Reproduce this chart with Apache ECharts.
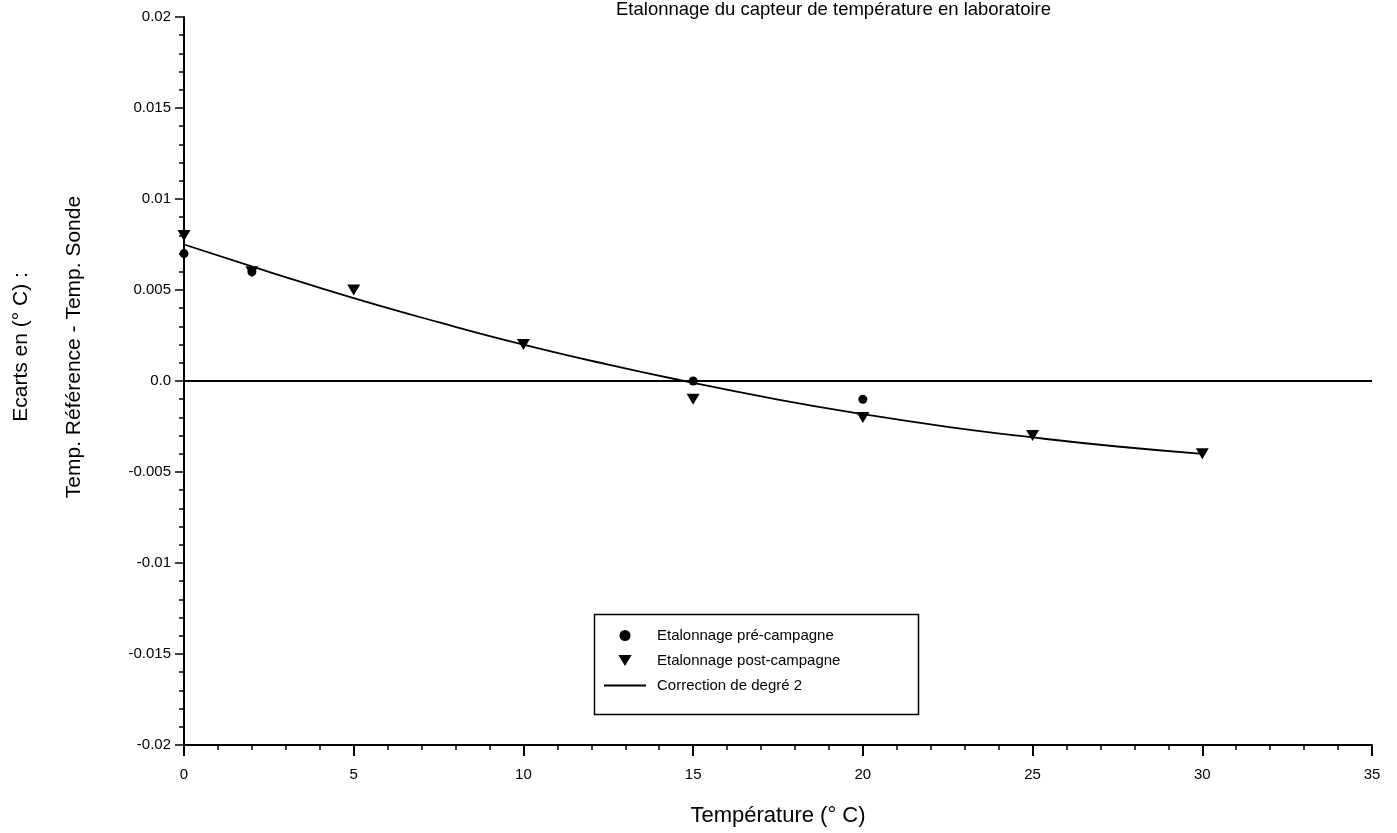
<!DOCTYPE html>
<html>
<head>
<meta charset="utf-8">
<script src="https://cdn.jsdelivr.net/npm/echarts@6/dist/echarts.min.js"></script>
<style>
html,body{margin:0;padding:0;background:#fff;}
#chart{width:1397px;height:833px;}
</style>
</head>
<body>
<div id="chart"></div>
<script>
// Data
const preX = [0, 2, 15, 20];
const preY = [0.007, 0.006, 0.0, -0.001];
const postX = [0, 2, 5, 10, 15, 20, 25, 30];
const postY = [0.008, 0.006, 0.005, 0.002, -0.001, -0.002, -0.003, -0.004];
const fitX = [0, 2.5, 5, 7.5, 10, 12.5, 15, 17.5, 20, 22.5, 25, 27.5, 30];
const fitY = [0.0075, 0.0060, 0.00455, 0.00323, 0.0020, 0.0009, -0.0001, -0.00102, -0.00182, -0.00252, -0.0031, -0.0036, -0.0040];
const xTicks = [0, 5, 10, 15, 20, 25, 30, 35];
const yTickValues = [-0.02, -0.015, -0.01, -0.005, 0, 0.005, 0.01, 0.015, 0.02];
const yTickLabels = ['-0.02', '-0.015', '-0.01', '-0.005', '0.0', '0.005', '0.01', '0.015', '0.02'];
const seriesNames = ['Etalonnage pré-campagne', 'Etalonnage post-campagne', 'Correction de degré 2'];
const titleText = 'Etalonnage du capteur de température en laboratoire';
const xName = 'Température (° C)';
const yName1 = 'Ecarts en (° C) :';
const yName2 = 'Temp. Référence - Temp. Sonde';

const zip = (xs, ys) => xs.map((x, i) => [x, ys[i]]);
const FONT = '"Liberation Sans", Arial, Helvetica, sans-serif';
const triPath = 'path://M0,0 L12,0 L6,10 Z';
const linePath = 'path://M0,0 L42,0 L42,1.8 L0,1.8 Z';

const chart = echarts.init(document.getElementById('chart'), null, {renderer: 'canvas'});
chart.setOption({
  backgroundColor: '#ffffff',
  animation: false,
  title: {
    text: titleText,
    left: 611,
    top: -5,
    textStyle: {fontFamily: FONT, fontSize: 18.5, fontWeight: 'normal', color: '#000'}
  },
  grid: {left: 184, right: 25, top: 17, bottom: 88, containLabel: false},
  xAxis: {
    type: 'value',
    min: 0, max: 35, interval: 5,
    name: xName,
    nameLocation: 'middle',
    nameGap: 60,
    nameTextStyle: {fontFamily: FONT, fontSize: 22, color: '#000'},
    axisLine: {show: true, onZero: false, lineStyle: {color: '#000', width: 2}},
    axisTick: {show: true, inside: false, length: 11, lineStyle: {color: '#000', width: 2}},
    minorTick: {show: true, splitNumber: 5, length: 5, lineStyle: {color: '#000', width: 1.5}},
    axisLabel: {fontFamily: FONT, fontSize: 15, color: '#000', margin: 22,
      formatter: v => xTicks.includes(v) ? String(v) : ''},
    splitLine: {show: false}
  },
  yAxis: {
    type: 'value',
    min: -0.02, max: 0.02, interval: 0.005,
    axisLine: {show: true, onZero: false, lineStyle: {color: '#000', width: 2}},
    axisTick: {show: true, inside: false, length: 9, lineStyle: {color: '#000', width: 1.5}},
    minorTick: {show: true, splitNumber: 5, length: 5, lineStyle: {color: '#000', width: 1.5}},
    axisLabel: {fontFamily: FONT, fontSize: 15, color: '#000', margin: 13,
      formatter: v => {
        for (let i = 0; i < yTickValues.length; i++) {
          if (Math.abs(yTickValues[i] - v) < 1e-9) return yTickLabels[i];
        }
        return '';
      }},
    splitLine: {show: false}
  },
  legend: {
    orient: 'vertical',
    left: 604,
    top: 628,
    itemWidth: 42,
    itemHeight: 11,
    itemGap: 10,
    padding: 0,
    symbolKeepAspect: true,
    textStyle: {fontFamily: FONT, fontSize: 15, color: '#000', padding: [0, 0, 0, 6]},
    data: [
      {name: seriesNames[0], icon: 'circle', itemStyle: {color: '#000', opacity: 1}},
      {name: seriesNames[1], icon: triPath, itemStyle: {color: '#000', opacity: 1}},
      {name: seriesNames[2], icon: linePath, itemStyle: {color: '#000', opacity: 1}}
    ]
  },
  graphic: [
    {type: 'rect', left: 592, top: 612, shape: {width: 324, height: 100},
      style: {fill: 'none', stroke: '#000', lineWidth: 1.5}, silent: true, z: 10},
    {type: 'text', rotation: Math.PI / 2, x: 21, y: 347,
      style: {text: yName1, font: '21px ' + FONT, fill: '#000', textAlign: 'center', textVerticalAlign: 'middle'}},
    {type: 'text', rotation: Math.PI / 2, x: 74, y: 347,
      style: {text: yName2, font: '21px ' + FONT, fill: '#000', textAlign: 'center', textVerticalAlign: 'middle'}}
  ],
  series: [
    {
      name: seriesNames[2],
      type: 'line',
      data: zip(fitX, fitY),
      smooth: true,
      symbol: 'none',
      lineStyle: {color: '#000', width: 1.8},
      itemStyle: {color: '#000'},
      z: 3,
      markLine: {
        silent: true,
        symbol: ['none', 'none'],
        label: {show: false},
        lineStyle: {color: '#000', width: 1.8, type: 'solid'},
        data: [{yAxis: 0}]
      }
    },
    {
      name: seriesNames[0],
      type: 'scatter',
      data: zip(preX, preY),
      symbol: 'circle',
      symbolSize: 9,
      itemStyle: {color: '#000', opacity: 1},
      z: 4
    },
    {
      name: seriesNames[1],
      type: 'scatter',
      data: zip(postX, postY),
      symbol: triPath,
      symbolSize: [13, 11],
      itemStyle: {color: '#000', opacity: 1},
      z: 4
    }
  ]
});
</script>
</body>
</html>
